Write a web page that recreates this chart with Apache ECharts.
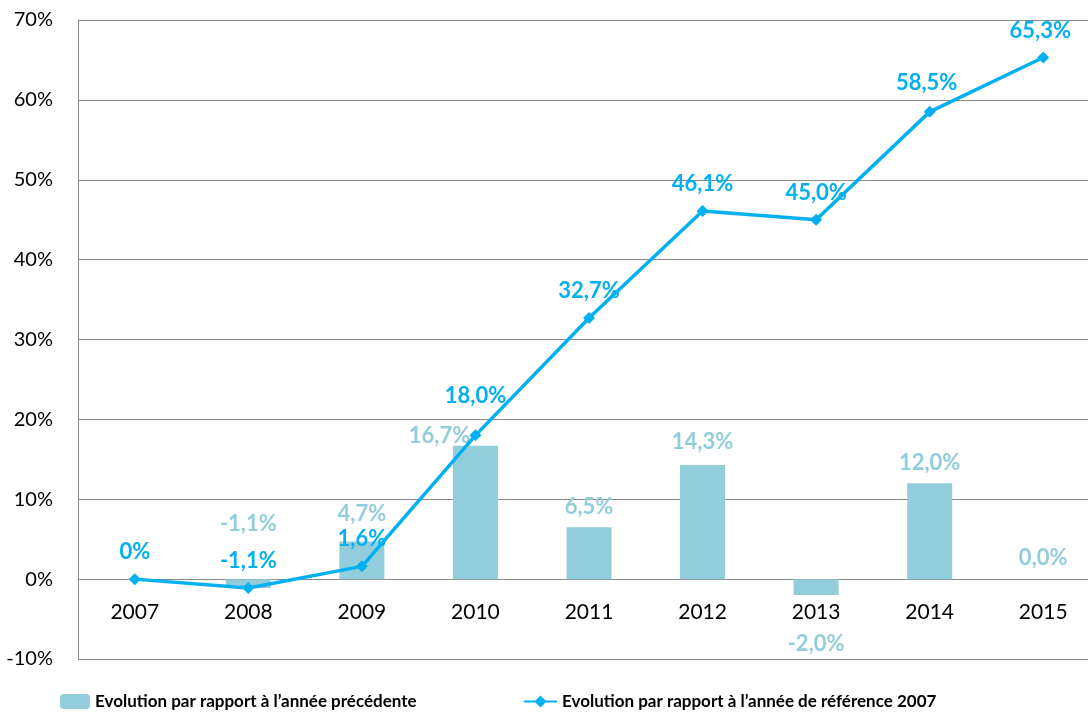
<!DOCTYPE html>
<html>
<head>
<meta charset="utf-8">
<script src="https://cdn.jsdelivr.net/npm/echarts@6/dist/echarts.min.js"></script>
<style>
  html, body { margin: 0; padding: 0; background: #fff; overflow: hidden; }
  /* the plot runs a little past the right edge of the window */
  #chart { width: 1100px; height: 713px; }
</style>
</head>
<body>
<div id="chart"></div>
<script>
// Years on the category axis
const years = ['2007', '2008', '2009', '2010', '2011', '2012', '2013', '2014', '2015'];
// Change versus the previous year (%), no value for the first year
const prevYearPct = [null, -1.1, 4.7, 16.7, 6.5, 14.3, -2.0, 12.0, 0.0];
// Cumulative change versus the 2007 reference year (%)
const vs2007Pct = [0, -1.1, 1.6, 18.0, 32.7, 46.1, 45.0, 58.5, 65.3];
// Value axis ticks
const yMin = -10, yMax = 70, yStep = 10;

const seriesNames = [
  'Evolution par rapport à l\u2019année précédente',
  'Evolution par rapport à l\u2019année de référence 2007'
];

// Hand placement of the bar value labels: [dx, dy, position]
const barLabelPlace = [
  [0, 0, 'top'], [0, -34, 'top'], [0, -7, 'top'], [-36, 11, 'top'], [0, 1, 'top'],
  [0, -2, 'top'], [0, 28, 'bottom'], [0, 1, 'top'], [0, 0, 'top']
];
// Extra shift for the line value labels
const lineLabelPlace = [[0, 0], [0, 0], [0, 0], [0, -12], [0, 0], [0, 0], [0, 0], [-3, -2], [-3, 0]];

const BAR_COLOR = '#92CDDC';
const LINE_COLOR = '#00B0F0';
const GRID_COLOR = '#8C8C8C';
const FONT = 'Lato';

const GRID_TOP = 20, GRID_BOTTOM = 54, CHART_H = 713;
// Category axis sits on the 0% line
const zeroOffset = -(CHART_H - GRID_TOP - GRID_BOTTOM) * (0 - yMin) / (yMax - yMin);

const fmt = (v) => v.toFixed(1).replace('.', ',') + '%';

const barData = prevYearPct.map((v, i) => ({
  value: v,
  label: {
    position: barLabelPlace[i][2],
    offset: [barLabelPlace[i][0], barLabelPlace[i][1]]
  }
}));
const lineData = vs2007Pct.map((v, i) => ({
  value: v,
  label: { offset: lineLabelPlace[i] }
}));

const legendText = { fontFamily: FONT, fontWeight: 'bold', fontSize: 17, color: '#000' };

const chart = echarts.init(document.getElementById('chart'), null, { renderer: 'canvas' });
chart.setOption({
  animation: false,
  backgroundColor: '#ffffff',
  textStyle: { fontFamily: FONT },
  grid: { left: 78, right: 0, top: GRID_TOP, bottom: GRID_BOTTOM, containLabel: false },
  legend: [
    {
      data: [seriesNames[0]],
      left: 60, top: 693, padding: 0,
      itemWidth: 30, itemHeight: 15, itemGap: 0,
      textStyle: legendText
    },
    {
      data: [seriesNames[1]],
      left: 523, top: 693, padding: 0,
      itemWidth: 33, itemHeight: 15, itemGap: 0,
      textStyle: legendText
    }
  ],
  xAxis: {
    type: 'category',
    data: years,
    boundaryGap: true,
    position: 'bottom',
    offset: zeroOffset,
    axisLine: { show: true, onZero: false, lineStyle: { color: GRID_COLOR, width: 1 } },
    axisTick: { show: false },
    axisLabel: { color: '#000', fontFamily: FONT, fontSize: 21, margin: 23 },
    splitLine: { show: false }
  },
  yAxis: {
    type: 'value',
    min: yMin, max: yMax, interval: yStep,
    axisLine: { show: true, lineStyle: { color: GRID_COLOR, width: 1 } },
    axisTick: { show: false },
    axisLabel: {
      color: '#000', fontFamily: FONT, fontSize: 20, margin: 25,
      formatter: (v) => v + '%'
    },
    splitLine: { show: true, lineStyle: { color: GRID_COLOR, width: 1 } }
  },
  series: [
    {
      name: seriesNames[0],
      type: 'bar',
      data: barData,
      barWidth: 45,
      itemStyle: { color: BAR_COLOR },
      z: 2,
      label: {
        show: true,
        distance: 10,
        color: BAR_COLOR,
        fontFamily: FONT, fontWeight: 'bold', fontSize: 22,
        formatter: (p) => (p.value == null ? '' : fmt(p.value))
      }
    },
    {
      name: seriesNames[1],
      type: 'line',
      data: lineData,
      symbol: 'diamond',
      symbolSize: 12,
      lineStyle: { color: LINE_COLOR, width: 3.5 },
      itemStyle: { color: LINE_COLOR },
      z: 3,
      label: {
        show: true,
        position: 'top',
        distance: 10,
        color: LINE_COLOR,
        fontFamily: FONT, fontWeight: 'bold', fontSize: 22,
        formatter: (p) => (p.value === 0 ? '0%' : fmt(p.value))
      }
    }
  ]
});
</script>
</body>
</html>
